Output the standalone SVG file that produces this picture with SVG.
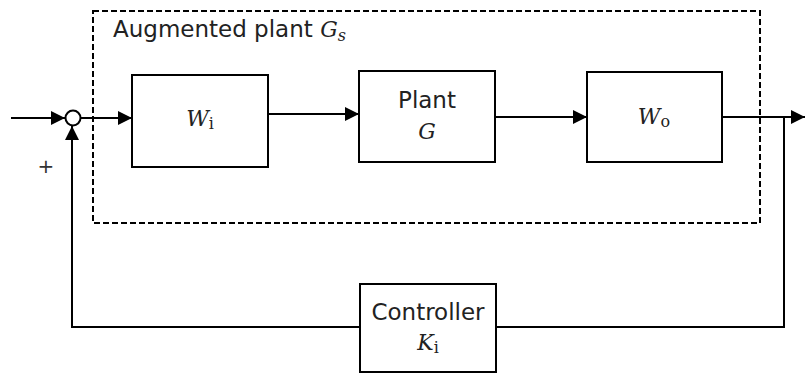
<svg xmlns="http://www.w3.org/2000/svg" width="805" height="374" viewBox="0 0 805 374">
<defs>
<style>
.blk{fill:#fff;stroke:#000;stroke-width:2}
.ln{fill:none;stroke:#000;stroke-width:2}
.dash{fill:none;stroke:#000;stroke-width:2;stroke-dasharray:6 3}
.t{font-family:"DejaVu Sans",Verdana,sans-serif;font-size:23px;fill:#222}
.m{font-family:"DejaVu Serif","Liberation Serif",serif;font-style:italic;font-size:22px;fill:#222}
.sub{font-family:"DejaVu Serif","Liberation Serif",serif;font-style:normal;font-size:16px}
.subi{font-family:"DejaVu Serif","Liberation Serif",serif;font-style:italic;font-size:16px}
</style>
<marker id="ah" markerWidth="14" markerHeight="14" refX="14" refY="7" orient="auto" markerUnits="userSpaceOnUse">
<path d="M0,0 L14,7 L0,14 z" fill="#000"/>
</marker>
</defs>
<rect width="805" height="374" fill="#fff"/>
<g id="augmented-plant">
<rect class="dash" x="93" y="11" width="667" height="212"/>
<text class="t" x="113" y="37">Augmented plant <tspan class="m">G</tspan><tspan class="subi" dy="4">s</tspan></text>
</g>
<g id="connectors">
<line class="ln" x1="11" y1="118" x2="65" y2="118" marker-end="url(#ah)"/>
<line class="ln" x1="80" y1="118" x2="132" y2="118" marker-end="url(#ah)"/>
<line class="ln" x1="268" y1="114" x2="359" y2="114" marker-end="url(#ah)"/>
<line class="ln" x1="495" y1="117" x2="587" y2="117" marker-end="url(#ah)"/>
<line class="ln" x1="722" y1="117" x2="805" y2="117" marker-end="url(#ah)"/>
<polyline class="ln" points="784,117 784,327 496,327"/>
<polyline class="ln" points="360,327 72,327 72,126" marker-end="url(#ah)"/>
</g>
<g id="sum">
<circle cx="73" cy="118" r="7.5" fill="#fff" stroke="#000" stroke-width="2"/>
<text x="46" y="173" font-family="'DejaVu Sans',sans-serif" font-size="20" text-anchor="middle" fill="#333">+</text>
</g>
<g id="Wi">
<rect class="blk" x="132" y="75" width="136" height="92"/>
<text class="m" x="200" y="126" text-anchor="middle">W<tspan class="sub" dy="3">i</tspan></text>
</g>
<g id="plant">
<rect class="blk" x="359" y="71" width="136" height="91"/>
<text class="t" x="427" y="108" text-anchor="middle">Plant</text>
<text class="m" x="427" y="139" text-anchor="middle">G</text>
</g>
<g id="Wo">
<rect class="blk" x="587" y="72" width="135" height="90"/>
<text class="m" x="654" y="124" text-anchor="middle">W<tspan class="sub" dy="3">o</tspan></text>
</g>
<g id="controller">
<rect class="blk" x="360" y="284" width="136" height="88"/>
<text class="t" x="428" y="320" text-anchor="middle">Controller</text>
<text class="m" x="428" y="350" text-anchor="middle">K<tspan class="sub" dy="3">i</tspan></text>
</g>
</svg>
